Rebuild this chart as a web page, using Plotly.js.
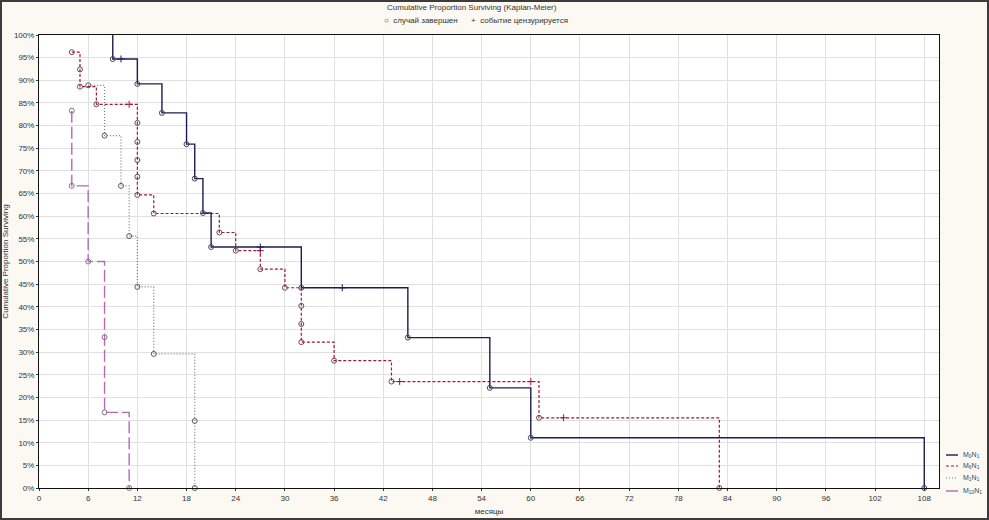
<!DOCTYPE html>
<html>
<head>
<meta charset="utf-8">
<script src="https://cdn.plot.ly/plotly-3.0.1.min.js"></script>
<style>
  html, body { margin: 0; padding: 0; background: #fbf9f1; }
  #wrap { position: relative; width: 989px; height: 520px; }
  #plot { width: 989px; height: 520px; }
  #frame { position: absolute; left: 0; top: 0; width: 989px; height: 520px; box-sizing: border-box;
           border: 2px solid #3c3c3c; pointer-events: none; }
</style>
</head>
<body>
<div id="wrap"><div id="plot"></div><div id="frame"></div></div>
<script>
// ---- data (months, cumulative proportion surviving in %) ----
const groupNames = ['M<sub>0</sub>N<sub>1</sub>', 'M<sub>6</sub>N<sub>1</sub>', 'M<sub>1</sub>N<sub>1</sub>', 'M<sub>10</sub>N<sub>1</sub>'];

const timesA = [9, 9, 10, 12, 15, 18, 19, 20, 21, 27, 32, 37, 45, 55, 60, 108];
const survA  = [100, 94.7, 94.7, 89.2, 82.8, 75.9, 68.3, 60.7, 53.2, 53.2, 44.2, 44.2, 33.2, 22.1, 11.1, 0];
const kindA  = ['', 'o', '+', 'o', 'o', 'o', 'o', 'o', 'o', '+', 'o', '+', 'o', 'o', 'o', 'o'];

const timesB = [4, 5, 5, 7, 11, 12, 12, 12, 12, 12, 14, 22, 24, 27, 27, 30, 32, 32, 32, 36, 43, 44, 60, 61, 64, 83];
const survB  = [96.2, 92.4, 88.6, 84.7, 84.7, 80.6, 76.4, 72.4, 68.7, 64.7, 60.6, 56.4, 52.4, 52.4, 48.3, 44.2, 40.2, 36.2, 32.2, 28.1, 23.5, 23.5, 23.5, 15.5, 15.5, 0];
const kindB  = ['o', 'o', 'o', 'o', '+', 'o', 'o', 'o', 'o', 'o', 'o', 'o', 'o', '+', 'o', 'o', 'o', 'o', 'o', 'o', 'o', '+', '+', 'o', '+', 'o'];

const timesC = [6, 8, 10, 11, 12, 14, 19, 19];
const survC  = [88.9, 77.8, 66.7, 55.6, 44.4, 29.6, 14.8, 0];
const kindC  = ['o', 'o', 'o', 'o', 'o', 'o', 'o', 'o'];

const timesD = [4, 4, 6, 8, 8, 11];
const survD  = [83.3, 66.7, 50, 33.3, 16.7, 0];
const kindD  = ['o', 'o', 'o', 'o', 'o', 'o'];

const xTicks = [0, 6, 12, 18, 24, 30, 36, 42, 48, 54, 60, 66, 72, 78, 84, 90, 96, 102, 108];
const yTicks = [0, 5, 10, 15, 20, 25, 30, 35, 40, 45, 50, 55, 60, 65, 70, 75, 80, 85, 90, 95, 100];

// ---- styles ----
const styles = [
  {color: '#1d1d52', dash: 'solid', width: 1.4, mk: '#45455a'},
  {color: '#a3173a', dash: '3px,2px', width: 1.2, mk: '#6e4a52'},
  {color: '#7a7a7a', dash: '1px,2px', width: 1.2, mk: '#5a5a5a'},
  {color: '#b46ab4', dash: '12px,4px', width: 1.4, mk: '#8a708a'}
];

const groups = [
  [timesA, survA, kindA],
  [timesB, survB, kindB],
  [timesC, survC, kindC],
  [timesD, survD, kindD]
];

const traces = [];
// draw in reverse so the solid line sits on top
[3, 2, 1, 0].forEach(function (g) {
  const t = groups[g][0], s = groups[g][1], k = groups[g][2], st = styles[g];
  traces.push({
    x: t, y: s, type: 'scatter', mode: 'lines', showlegend: false, hoverinfo: 'skip',
    line: {shape: 'hv', color: st.color, dash: st.dash, width: st.width}, cliponaxis: false
  });
  const ox = [], oy = [], cx = [], cy = [];
  for (let i = 0; i < t.length; i++) {
    if (k[i] === 'o') { ox.push(t[i]); oy.push(s[i]); }
    else if (k[i] === '+') { cx.push(t[i]); cy.push(s[i]); }
  }
  traces.push({
    x: ox, y: oy, type: 'scatter', mode: 'markers', showlegend: false, cliponaxis: false,
    marker: {symbol: 'circle-open', size: 5, color: st.mk, line: {width: 1, color: st.mk}}
  });
  traces.push({
    x: cx, y: cy, type: 'scatter', mode: 'markers', showlegend: false, cliponaxis: false,
    marker: {symbol: 'cross-thin-open', size: 5, color: st.color, line: {width: 1, color: st.color}}
  });
});

// ---- manual legend (bottom right, outside plot) ----
const L = 39, R = 939, T = 35, B = 488;
const px = v => (v - L) / (R - L);
const py = v => (B - v) / (B - T);
const legendY = [455, 466, 478, 491];
const shapes = [];
const annotations = [];
groupNames.forEach(function (name, i) {
  const st = styles[i];
  shapes.push({type: 'line', xref: 'paper', yref: 'paper',
    x0: px(946), x1: px(958), y0: py(legendY[i]), y1: py(legendY[i]),
    line: {color: st.color, width: st.width, dash: i === 3 ? 'solid' : st.dash}});
  annotations.push({xref: 'paper', yref: 'paper', x: px(961), y: py(legendY[i]),
    xanchor: 'left', yanchor: 'middle', showarrow: false, text: name,
    font: {size: 7, color: '#444', family: 'Liberation Sans, Arial, sans-serif'}});
});
annotations.push({xref: 'paper', yref: 'paper', x: px(472), y: py(8), xanchor: 'center', yanchor: 'middle',
  showarrow: false, text: 'Cumulative Proportion Surviving (Kaplan-Meier)',
  font: {size: 8, color: '#333', family: 'Liberation Sans, Arial, sans-serif'}});
annotations.push({xref: 'paper', yref: 'paper', x: px(476), y: py(20), xanchor: 'center', yanchor: 'middle',
  showarrow: false, text: '○  случай завершен      +  событие цензурируется',
  font: {size: 8, color: '#333', family: 'Liberation Sans, Arial, sans-serif'}});

const layout = {
  width: 989, height: 520,
  margin: {l: 39, r: 50, t: 35, b: 32, pad: 0},
  paper_bgcolor: '#fbf9f1', plot_bgcolor: '#ffffff',
  font: {family: 'Liberation Sans, Arial, sans-serif', size: 8, color: '#333'},
  showlegend: false,
  xaxis: {
    range: [0, 109.8], tickvals: xTicks, ticktext: xTicks.map(String),
    showgrid: true, gridcolor: '#e0e0e0', gridwidth: 1, zeroline: false,
    showline: true, linecolor: '#111', linewidth: 1, mirror: true,
    ticks: 'outside', ticklen: 2, tickcolor: '#333',
    tickfont: {size: 8, color: '#333'},
    title: {text: 'месяцы', font: {size: 8, color: '#333'}, standoff: 6}
  },
  yaxis: {
    range: [0, 100], tickvals: yTicks, ticktext: yTicks.map(v => v + '%'),
    showgrid: true, gridcolor: '#e0e0e0', gridwidth: 1, zeroline: false,
    showline: true, linecolor: '#111', linewidth: 1, mirror: true,
    ticks: 'outside', ticklen: 2, tickcolor: '#333',
    tickfont: {size: 8, color: '#333'},
    title: {text: 'Cumulative Proportion Surviving', font: {size: 8, color: '#333'}, standoff: 4}
  },
  shapes: shapes,
  annotations: annotations
};

Plotly.newPlot('plot', traces, layout, {displayModeBar: false, staticPlot: true});
</script>
</body>
</html>
